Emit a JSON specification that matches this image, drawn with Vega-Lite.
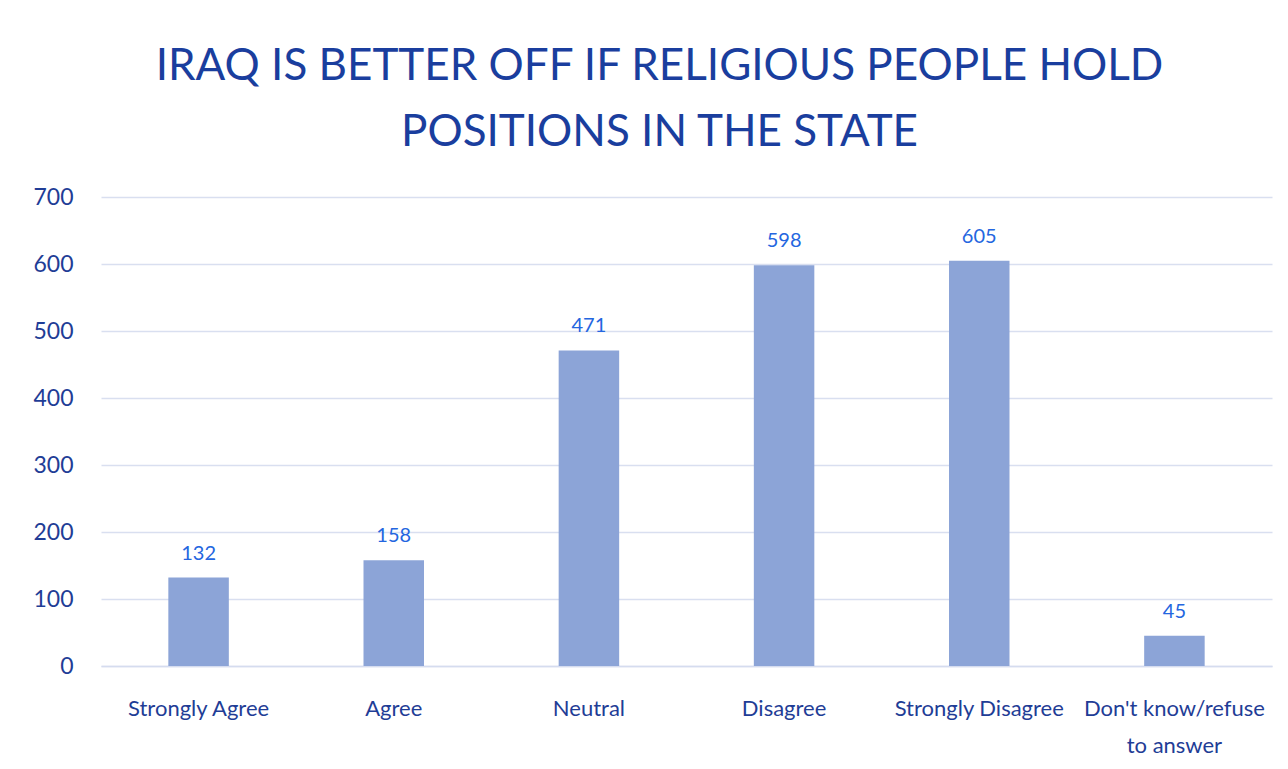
{
  "$schema": "https://vega.github.io/schema/vega-lite/v6.json",
  "width": 1171,
  "height": 469,
  "autosize": {"type": "none"},
  "padding": {"left": 101, "top": 197, "right": 16, "bottom": 103},
  "background": "white",
  "title": {
    "text": ["IRAQ IS BETTER OFF IF RELIGIOUS PEOPLE HOLD", "POSITIONS IN THE STATE"],
    "font": "Lato",
    "fontSize": 44,
    "fontWeight": "normal",
    "color": "#1a3e9e",
    "lineHeight": 66,
    "anchor": "middle",
    "dx": -27,
    "offset": 31
  },
  "data": {
    "values": [
      {"response": "Strongly Agree", "count": 132},
      {"response": "Agree", "count": 158},
      {"response": "Neutral", "count": 471},
      {"response": "Disagree", "count": 598},
      {"response": "Strongly Disagree", "count": 605},
      {"response": "Don't know/refuse to answer", "count": 45}
    ]
  },
  "encoding": {
    "x": {
      "field": "response",
      "type": "nominal",
      "sort": null,
      "scale": {"paddingInner": 0.69, "paddingOuter": 0.345},
      "axis": {
        "title": null,
        "labelAngle": 0,
        "labelFont": "Lato",
        "labelFontSize": 22,
        "labelColor": "#1f3d96",
        "labelPadding": 32,
        "labelLimit": 400,
        "labelLineHeight": 37,
        "labelExpr": "datum.label == \"Don't know/refuse to answer\" ? [\"Don't know/refuse\", \"to answer\"] : datum.label",
        "ticks": false,
        "domainColor": "#d5dcef",
        "domainWidth": 1.5
      }
    },
    "y": {
      "field": "count",
      "type": "quantitative",
      "scale": {"domain": [0, 700], "nice": false},
      "axis": {
        "title": null,
        "values": [0, 100, 200, 300, 400, 500, 600, 700],
        "labelFont": "Lato",
        "labelFontSize": 23,
        "labelColor": "#1f3d96",
        "labelPadding": 28,
        "ticks": false,
        "domain": false,
        "gridColor": "#d9dff0",
        "gridWidth": 1.5
      }
    }
  },
  "layer": [
    {"mark": {"type": "bar", "color": "#8ca4d7"}},
    {
      "mark": {"type": "text", "baseline": "bottom", "dy": -14, "font": "Lato", "fontSize": 20, "color": "#2466e0"},
      "encoding": {"text": {"field": "count", "type": "quantitative"}}
    }
  ],
  "config": {"view": {"stroke": null}}
}
